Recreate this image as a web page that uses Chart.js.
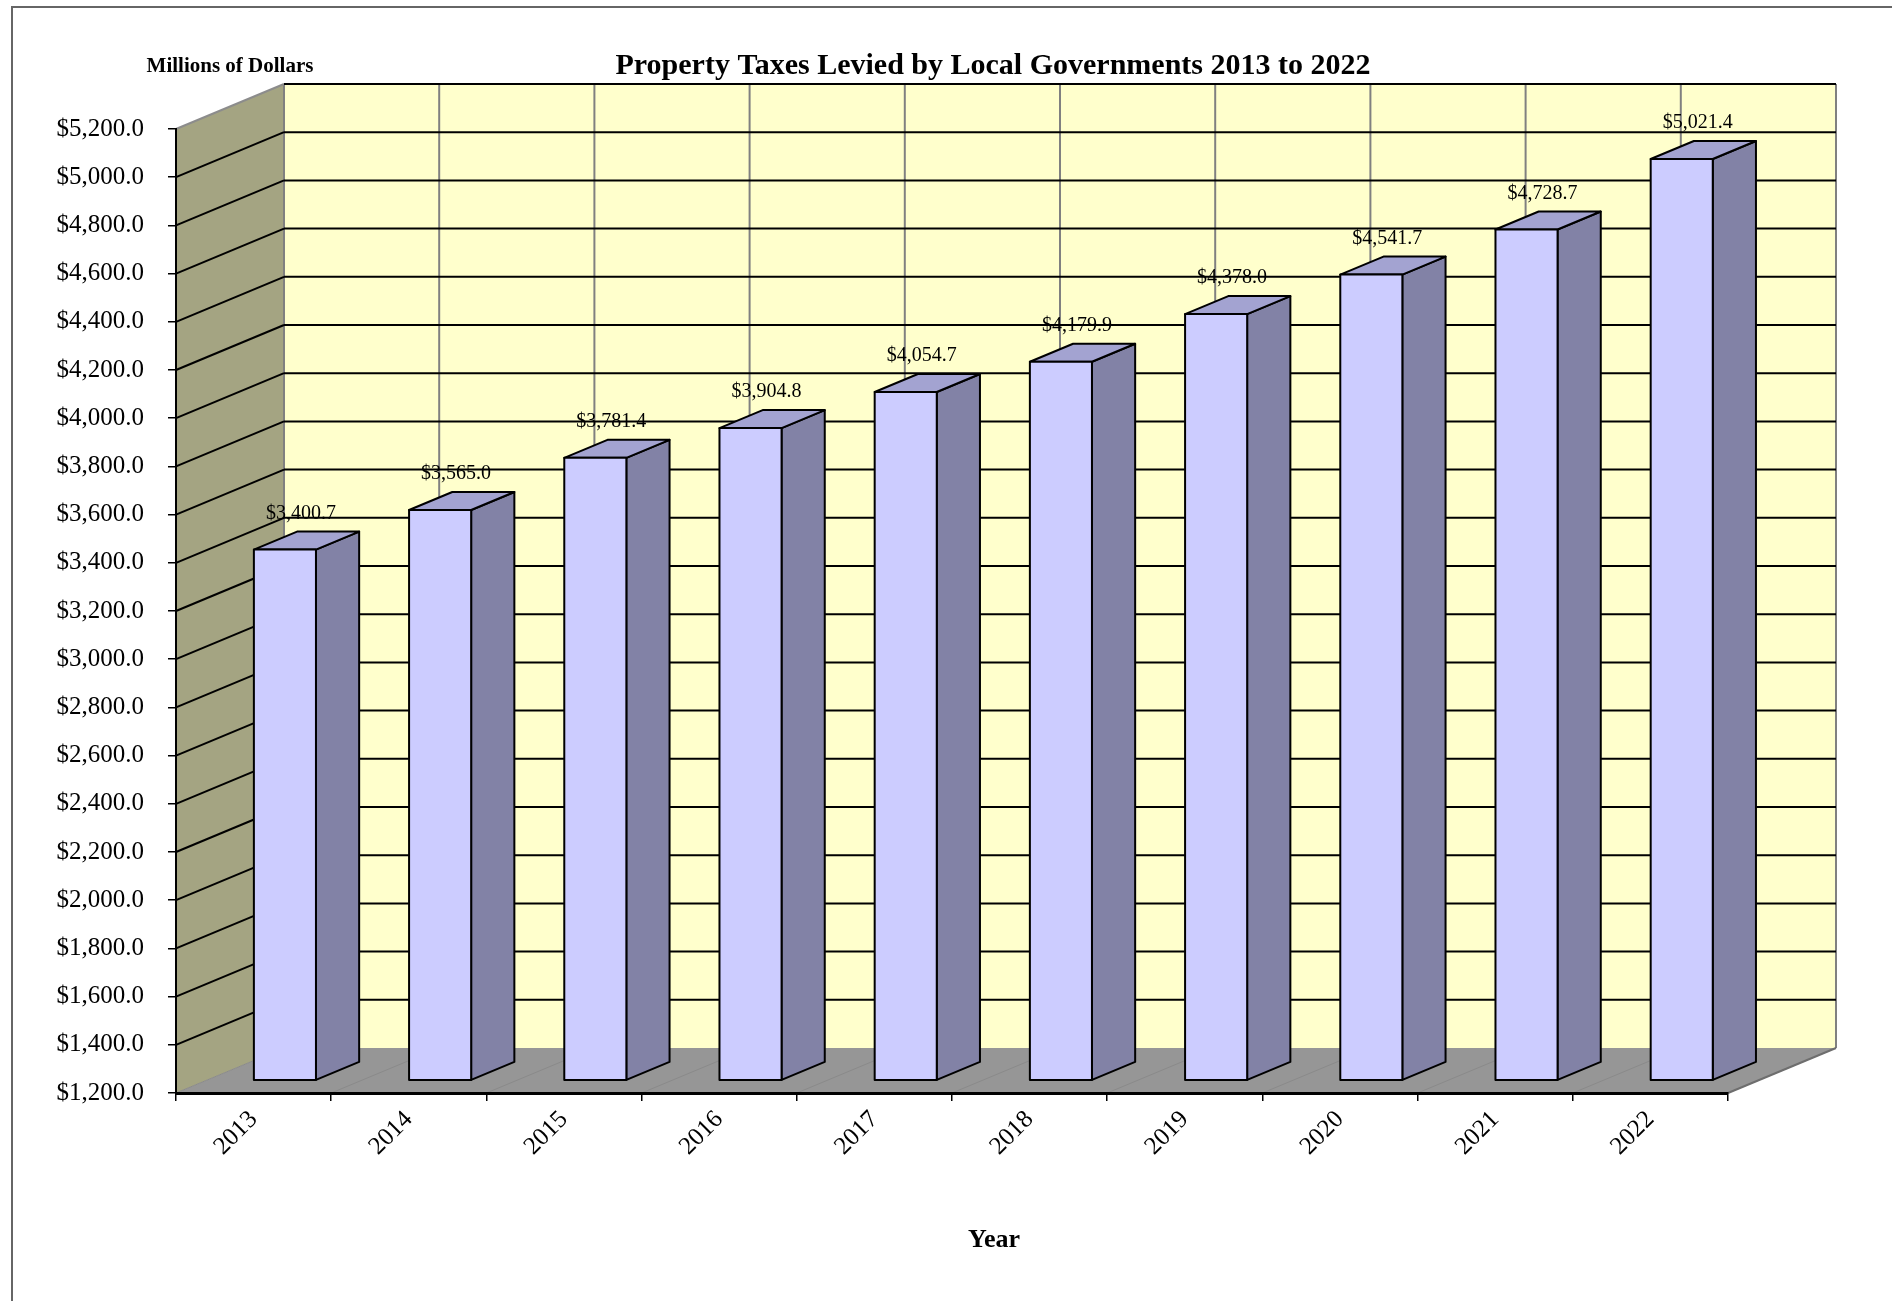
<!DOCTYPE html>
<html>
<head>
<meta charset="utf-8">
<title>Property Taxes Levied by Local Governments 2013 to 2022</title>
<script src="https://cdn.jsdelivr.net/npm/chart.js@4.4.1/dist/chart.umd.min.js"></script>
<style>
  html, body { margin: 0; padding: 0; background: #ffffff; }
  canvas { display: block; }
</style>
</head>
<body>
<canvas id="taxChart" width="1892" height="1301"></canvas>
<script>
// data
var years = ['2013', '2014', '2015', '2016', '2017', '2018', '2019', '2020', '2021', '2022'];
var levied = [3400.7, 3565.0, 3781.4, 3904.8, 4054.7, 4179.9, 4378.0, 4541.7, 4728.7, 5021.4];
var yMin = 1200;
var yMax = 5200;
var yStep = 200;

// 3d look
var DX = 108, DY = 45;          // wall depth
var barFront = 0.29, barDepth = 0.4;
var serif = "'Liberation Serif', 'Times New Roman', serif";

function money(v) {
    return '$' + v.toLocaleString('en-US', {minimumFractionDigits: 1, maximumFractionDigits: 1});
}

function line(ctx, pts, color, w) {
    ctx.beginPath();
    ctx.moveTo(pts[0][0], pts[0][1]);
    for (var i = 1; i < pts.length; i++) ctx.lineTo(pts[i][0], pts[i][1]);
    ctx.strokeStyle = color;
    ctx.lineWidth = w;
    ctx.stroke();
}

function poly(ctx, pts, fill, stroke, w) {
    ctx.beginPath();
    ctx.moveTo(pts[0][0], pts[0][1]);
    for (var i = 1; i < pts.length; i++) ctx.lineTo(pts[i][0], pts[i][1]);
    ctx.closePath();
    ctx.fillStyle = fill;
    ctx.fill();
    if (stroke) {
        ctx.strokeStyle = stroke;
        ctx.lineWidth = w;
        ctx.lineJoin = 'round';
        ctx.stroke();
    }
}

var walls = {
    id: 'walls',
    beforeDraw: function(chart) {
        var ctx = chart.ctx;
        var a = chart.chartArea;
        var ys = chart.scales.y;
        var n = years.length;
        ctx.save();
        ctx.fillStyle = '#ffffff';
        ctx.fillRect(0, 0, chart.width, chart.height);
        // outer frame
        line(ctx, [[12, chart.height], [12, 7], [chart.width, 7]], '#666666', 2);

        // back wall, side wall, floor
        poly(ctx, [[a.left + DX, a.top - DY], [a.right + DX, a.top - DY], [a.right + DX, a.bottom - DY], [a.left + DX, a.bottom - DY]], '#FFFFCC');
        poly(ctx, [[a.left, a.top], [a.left + DX, a.top - DY], [a.left + DX, a.bottom - DY], [a.left, a.bottom]], '#A4A482');
        poly(ctx, [[a.left, a.bottom], [a.right, a.bottom], [a.right + DX, a.bottom - DY], [a.left + DX, a.bottom - DY]], '#969696');

        var cw = (a.right - a.left) / n;
        for (var i = 0; i <= n; i++) {
            var bx = a.left + i * cw;
            line(ctx, [[bx, a.bottom], [bx + DX, a.bottom - DY]], '#8a8a8a', 1);
            line(ctx, [[bx + DX, a.top - DY], [bx + DX, a.bottom - DY]], '#808080', 2);
        }
        line(ctx, [[a.right, a.bottom], [a.right + DX, a.bottom - DY]], '#6e6e6e', 2);

        for (var v = yMin + yStep; v <= yMax; v += yStep) {
            var py = ys.getPixelForValue(v);
            line(ctx, [[a.left, py], [a.left + DX, py - DY]], v === yMax ? '#8c8c8c' : '#000000', 2);
            line(ctx, [[a.left + DX, py - DY], [a.right + DX, py - DY]], '#000000', 2);
        }
        ctx.restore();
    },
    afterDatasetsDraw: function(chart) {
        var ctx = chart.ctx;
        var a = chart.chartArea;
        var meta = chart.getDatasetMeta(0);
        var sx = DX * barFront, sy = DY * barFront;
        var bx = DX * barDepth, by = DY * barDepth;
        ctx.save();
        meta.data.forEach(function(el, i) {
            var p = el.getProps(['x', 'y', 'base', 'width'], true);
            var base = Math.min(p.base, a.bottom);
            var L = p.x - p.width / 2 + sx, R = p.x + p.width / 2 + sx;
            var T = p.y - sy, B = base - sy;
            poly(ctx, [[R, T], [R + bx, T - by], [R + bx, B - by], [R, B]], '#8282A6', '#000000', 2);
            poly(ctx, [[L, T], [R, T], [R + bx, T - by], [L + bx, T - by]], '#A3A3D1', '#000000', 2);
            poly(ctx, [[L, T], [R, T], [R, B], [L, B]], '#CCCCFF', '#000000', 2);
            ctx.fillStyle = '#000000';
            ctx.font = '20px ' + serif;
            ctx.textAlign = 'center';
            ctx.textBaseline = 'middle';
            ctx.fillText(money(levied[i]), (L + R) / 2 + 16, T - 36);
        });

        // titles
        ctx.textAlign = 'center';
        ctx.textBaseline = 'middle';
        ctx.font = 'bold 30px ' + serif;
        ctx.fillText('Property Taxes Levied by Local Governments 2013 to 2022', 993, 66);
        ctx.font = 'bold 21px ' + serif;
        ctx.fillText('Millions of Dollars', 230, 67);
        ctx.font = 'bold 26px ' + serif;
        ctx.fillText('Year', 994, 1240);
        ctx.restore();
    }
};

new Chart(document.getElementById('taxChart'), {
    type: 'bar',
    data: {
        labels: years,
        datasets: [{
            label: 'Property Taxes Levied',
            data: levied,
            backgroundColor: 'rgba(0,0,0,0)',
            borderWidth: 0,
            categoryPercentage: 1.0,
            barPercentage: 0.4
        }]
    },
    options: {
        responsive: false,
        animation: false,
        devicePixelRatio: 1,
        layout: { padding: { top: 129, right: 164, bottom: 0, left: 0 } },
        plugins: {
            legend: { display: false },
            tooltip: { enabled: false },
            title: { display: false }
        },
        scales: {
            x: {
                afterFit: function(s) { s.height = 208; },
                grid: { display: true, drawOnChartArea: false, offset: true, tickLength: 8, color: '#000000', lineWidth: 1.5 },
                border: { display: true, color: '#000000', width: 3 },
                ticks: {
                    autoSkip: false,
                    minRotation: 45,
                    maxRotation: 45,
                    padding: 4,
                    color: '#000000',
                    font: { family: serif, size: 25 }
                }
            },
            y: {
                min: yMin,
                max: yMax,
                afterFit: function(s) { s.width = 176; },
                grid: { display: true, drawOnChartArea: false, tickLength: 8, color: '#000000', lineWidth: 1.5 },
                border: { display: true, color: '#000000', width: 2 },
                ticks: {
                    stepSize: yStep,
                    padding: 24,
                    color: '#000000',
                    font: { family: serif, size: 25 },
                    callback: function(v) { return money(v); }
                }
            }
        }
    },
    plugins: [walls]
});
</script>
</body>
</html>
